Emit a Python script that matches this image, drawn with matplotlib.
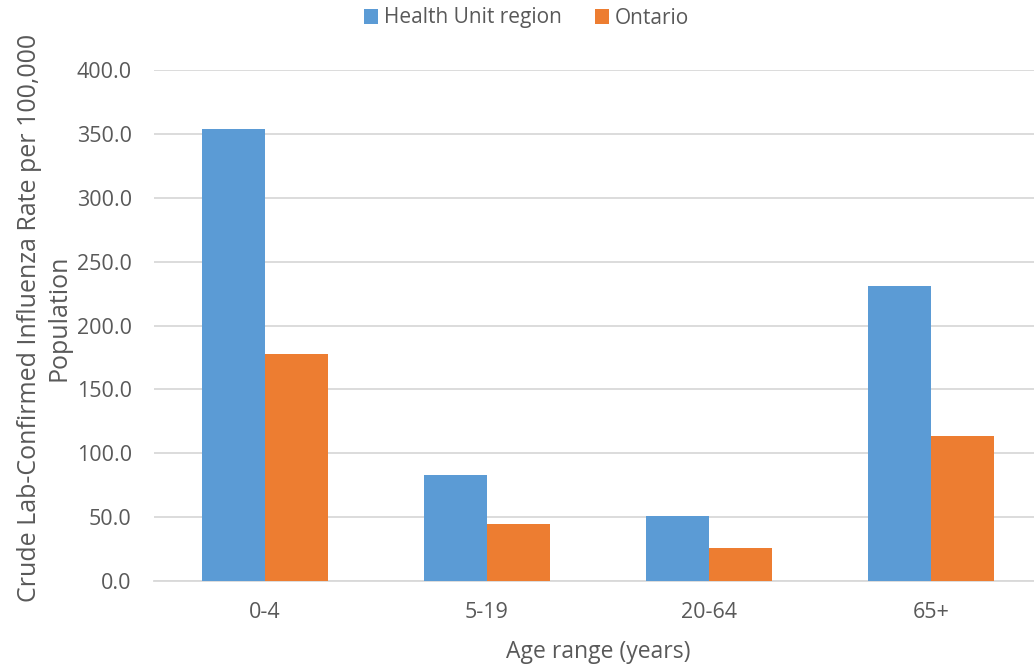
import matplotlib
matplotlib.use("Agg")
import matplotlib.pyplot as plt
import numpy as np

categories = ["0-4", "5-19", "20-64", "65+"]
health_unit = [353.8, 83.0, 50.9, 230.9]
ontario = [177.7, 44.6, 25.8, 113.5]
series_names = ["Health Unit region", "Ontario"]
yticks = [0, 50, 100, 150, 200, 250, 300, 350, 400]

plt.rcParams['font.family'] = ['Open Sans', 'DejaVu Sans']
txt = '#595959'

fig = plt.figure(figsize=(10.34, 6.66), dpi=100)
W, H = 1034, 666
ax = fig.add_axes([154 / W, (H - 581) / H, 888 / W, 511 / H])

x = np.arange(len(categories))
w = 0.284
b1 = ax.bar(x - w / 2, health_unit, w, color='#5B9BD5', label=series_names[0], zorder=3)
b2 = ax.bar(x + w / 2, ontario, w, color='#ED7D31', label=series_names[1], zorder=3)

ax.set_xlim(-0.5, 3.5)
ax.set_ylim(0, 400)
ax.set_yticks(yticks)
ax.set_yticklabels([f"{v:.1f}" for v in yticks])
ax.set_xticks(x)
ax.set_xticklabels(categories)
ax.yaxis.grid(True, color='#D9D9D9', linewidth=1.3, zorder=0)
ax.set_axisbelow(True)
for s in ['top', 'right', 'left']:
    ax.spines[s].set_visible(False)
ax.spines['bottom'].set_color('#D9D9D9')
ax.spines['bottom'].set_linewidth(1.3)
ax.tick_params(axis='both', length=0, labelsize=15.5, colors=txt)
ax.tick_params(axis='y', pad=16)
ax.tick_params(axis='x', pad=15)

ax.set_xlabel("Age range (years)", fontsize=16.5, color=txt, labelpad=12)
fig.text(44 / W, (H - 318) / H, "Crude Lab-Confirmed Influenza Rate per 100,000\nPopulation",
         rotation=90, ha='center', va='center', fontsize=18, color=txt, linespacing=1.22)

fig.legend(handles=[b1, b2], labels=series_names, loc='center', bbox_to_anchor=(0.509, (H - 18) / H),
           ncol=2, frameon=False, fontsize=15, labelcolor=txt, handlelength=0.7, handleheight=0.7,
           handletextpad=0.25, columnspacing=1.6)

fig.savefig("out.png", dpi=100)
